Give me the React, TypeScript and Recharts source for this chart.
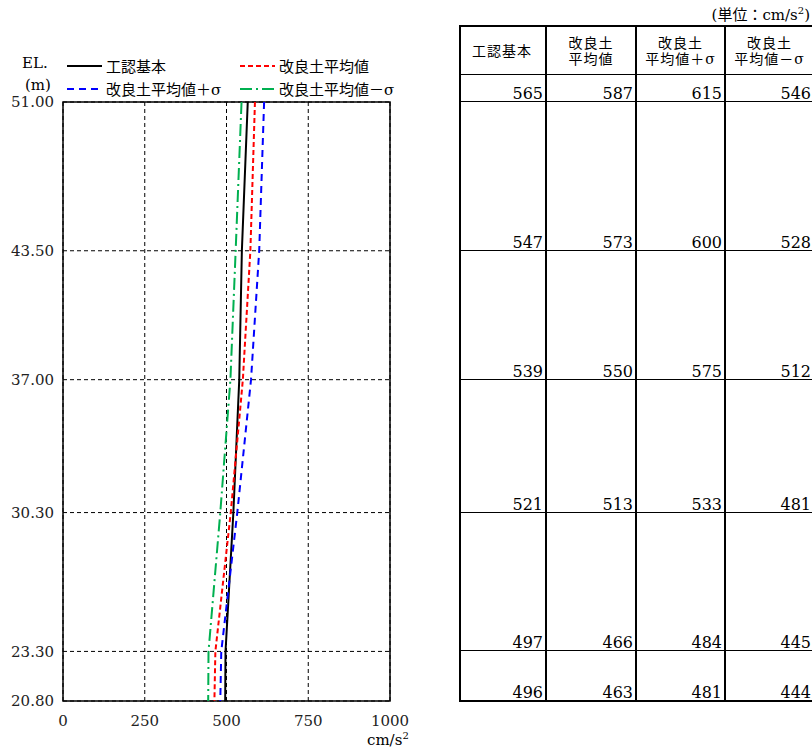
import { CartesianGrid, Line, LineChart, ReferenceArea, XAxis, YAxis } from "recharts"

const ELEVATIONS = [51.0, 43.5, 37.0, 30.3, 23.3, 20.8]
const KIHON = [565, 547, 539, 521, 497, 496]
const AVG = [587, 573, 550, 513, 466, 463]
const AVG_PLUS = [615, 600, 575, 533, 484, 481]
const AVG_MINUS = [546, 528, 512, 481, 445, 444]
const X_TICKS = [0, 250, 500, 750, 1000]

const SERIES = [
  { key: "kihon", name: "工認基本", values: KIHON, color: "#000000", dash: undefined, width: 2 },
  { key: "avg", name: "改良土平均値", values: AVG, color: "#ff0000", dash: "5 3", width: 2 },
  { key: "plus", name: "改良土平均値＋σ", values: AVG_PLUS, color: "#0000ff", dash: "7 5", width: 2 },
  { key: "minus", name: "改良土平均値－σ", values: AVG_MINUS, color: "#00b050", dash: "12 4 2 4", width: 2 },
]

const TABLE_HEAD = [["工認基本"], ["改良土", "平均値"], ["改良土", "平均値＋σ"], ["改良土", "平均値－σ"]]

const data = ELEVATIONS.map((el, i) => {
  const row: Record<string, number> = { el }
  SERIES.forEach((s) => (row[s.key] = s.values[i]))
  return row
})

const FONT = "DejaVu Serif, Noto Sans CJK JP, serif"
const PLOT_TOP = 102
const PLOT_H = 599
const EL_MAX = ELEVATIONS[0]
const EL_MIN = ELEVATIONS[ELEVATIONS.length - 1]
const yPix = (el: number) => PLOT_TOP + ((EL_MAX - el) / (EL_MAX - EL_MIN)) * PLOT_H

const COLS = [459, 547, 637, 726, 815]
const HEAD_TOP = 26
const HEAD_BOTTOM = 75

function LegendItem({ s, x, y }: { s: (typeof SERIES)[number]; x: number; y: number }) {
  return (
    <div style={{ position: "absolute", left: x, top: y, display: "flex", alignItems: "center", whiteSpace: "nowrap" }}>
      <svg width={35} height={6} style={{ marginRight: 4 }}>
        <line x1={0} y1={3} x2={35} y2={3} stroke={s.color} strokeWidth={s.width} strokeDasharray={s.dash} />
      </svg>
      <span style={{ fontSize: 15 }}>{s.name}</span>
    </div>
  )
}

function ValueTable() {
  const rowLines = [HEAD_TOP, HEAD_BOTTOM, ...ELEVATIONS.map(yPix)]
  const cells = []
  for (let c = 0; c < 4; c++) {
    const left = COLS[c]
    const width = COLS[c + 1] - left
    cells.push(
      <div
        key={`h${c}`}
        style={{
          position: "absolute", left, top: HEAD_TOP, width, height: HEAD_BOTTOM - HEAD_TOP,
          borderRight: "2px solid #000", boxSizing: "border-box",
          display: "flex", flexDirection: "column", justifyContent: "center", alignItems: "center",
          fontSize: 14, lineHeight: "16px", letterSpacing: 1,
        }}
      >
        {TABLE_HEAD[c].map((t) => <div key={t}>{t}</div>)}
      </div>
    )
    for (let r = 0; r < ELEVATIONS.length; r++) {
      const top = rowLines[r + 1]
      const bottom = rowLines[r + 2]
      cells.push(
        <div
          key={`c${c}-${r}`}
          style={{
            position: "absolute", left, top, width, height: bottom - top,
            borderRight: "2px solid #000", boxSizing: "border-box",
            display: "flex", alignItems: "flex-end", justifyContent: "flex-end",
            fontSize: 16, lineHeight: "17px", paddingRight: 2, paddingBottom: 0,
          }}
        >
          {SERIES[c].values[r]}
        </div>
      )
    }
  }
  return (
    <>
      {rowLines.map((y, i) => (
        <div key={`rl${i}`} style={{ position: "absolute", left: COLS[0], top: y - 1, width: COLS[4] - COLS[0], height: 0, borderTop: `${i === 0 || i === rowLines.length - 1 ? 2 : 1.5}px solid #000` }} />
      ))}
      <div style={{ position: "absolute", left: COLS[0], top: HEAD_TOP, width: 0, height: rowLines[rowLines.length - 1] - HEAD_TOP, borderLeft: "2px solid #000" }} />
      {cells}
    </>
  )
}

export default function App() {
  return (
    <div style={{ position: "absolute", left: 0, top: 0, width: 812, height: 751, overflow: "hidden", background: "#fff", fontFamily: FONT, color: "#000" }}>
      <LineChart
        width={410}
        height={751}
        data={data}
        layout="vertical"
        margin={{ top: PLOT_TOP, right: 20, bottom: 20, left: 0 }}
      >
        <CartesianGrid stroke="#000" strokeDasharray="4 3" strokeWidth={1} />
        <XAxis
          type="number"
          domain={[0, 1000]}
          ticks={X_TICKS}
          height={30}
          axisLine={false}
          tickLine={false}
          tick={{ fill: "#222", fontSize: 15, fontFamily: FONT }}
          tickMargin={8}
        />
        <YAxis
          type="number"
          dataKey="el"
          domain={[EL_MIN, EL_MAX]}
          reversed
          ticks={ELEVATIONS}
          width={63}
          axisLine={false}
          tickLine={false}
          tick={{ fill: "#222", fontSize: 15, fontFamily: FONT }}
          tickFormatter={(v: number) => v.toFixed(2)}
          tickMargin={3}
        />
        <ReferenceArea x1={0} x2={1000} y1={EL_MIN} y2={EL_MAX} fill="none" stroke="#000" strokeWidth={1.5} />
        {SERIES.map((s) => (
          <Line
            key={s.key}
            dataKey={s.key}
            stroke={s.color}
            strokeWidth={s.width}
            strokeDasharray={s.dash}
            dot={false}
            isAnimationActive={false}
          />
        ))}
      </LineChart>

      <div style={{ position: "absolute", left: 22, top: 54, fontSize: 15 }}>EL.</div>
      <div style={{ position: "absolute", left: 25, top: 76, fontSize: 15 }}>(m)</div>
      <LegendItem s={SERIES[0]} x={67} y={55} />
      <LegendItem s={SERIES[1]} x={240} y={55} />
      <LegendItem s={SERIES[2]} x={67} y={78} />
      <LegendItem s={SERIES[3]} x={240} y={78} />
      <div style={{ position: "absolute", left: 367, top: 730, fontSize: 15 }}>
        cm/s<sup style={{ fontSize: 10 }}>2</sup>
      </div>

      <div style={{ position: "absolute", right: 2, top: 3, fontSize: 15 }}>
        (単位：cm/s<sup style={{ fontSize: 10 }}>2</sup>)
      </div>
      <ValueTable />
    </div>
  )
}
